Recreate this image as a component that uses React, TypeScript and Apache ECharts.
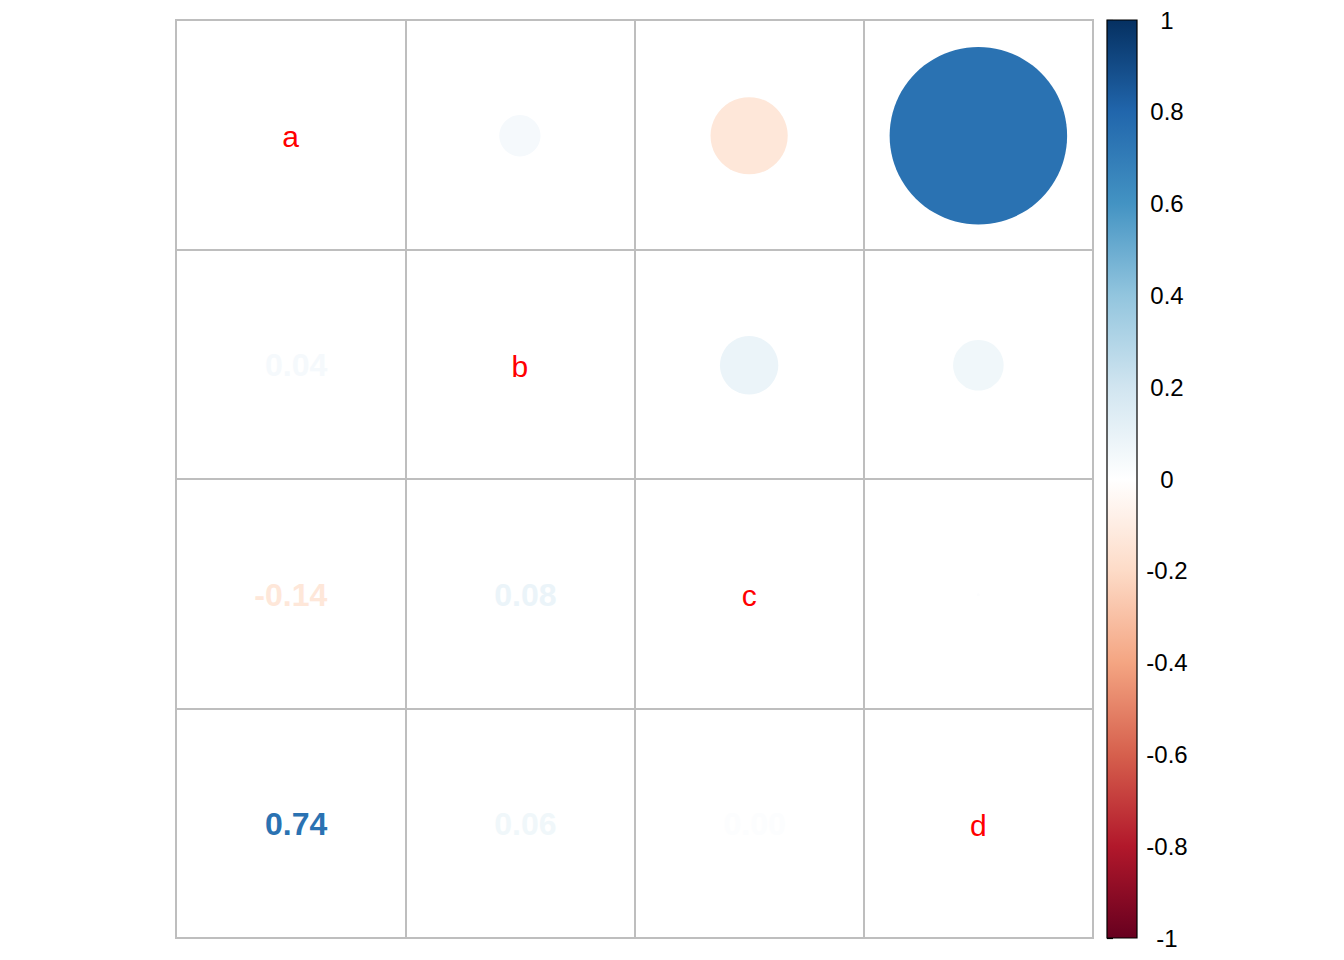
import React, { useEffect, useRef } from 'react';
import * as echarts from 'echarts';

const variables = ['a', 'b', 'c', 'd'];
const corrRows = [
  [1, 0.04, -0.14, 0.74],
  [0.04, 1, 0.08, 0.06],
  [-0.14, 0.08, 1, 0.0002],
  [0.74, 0.06, 0.0002, 1],
];
const palette = [
  '#67001F', '#B2182B', '#D6604D', '#F4A582', '#FDDBC7', '#FFFFFF',
  '#D1E5F0', '#92C5DE', '#4393C3', '#2166AC', '#053061',
];
const colorbarRange = [-1, 1];

function hexToRgb(h: string) {
  return [parseInt(h.slice(1, 3), 16), parseInt(h.slice(3, 5), 16), parseInt(h.slice(5, 7), 16)];
}

function colorFor(v: number) {
  const n = 200;
  let idx = Math.ceil(((v + 1) / 2) * n);
  idx = Math.max(0, Math.min(n - 1, idx));
  const t = (idx / (n - 1)) * (palette.length - 1);
  const k = Math.min(Math.floor(t), palette.length - 2);
  const f = t - k;
  const a = hexToRgb(palette[k]);
  const b = hexToRgb(palette[k + 1]);
  const c = a.map((x, i) => Math.round(x + (b[i] - x) * f));
  return `rgb(${c[0]},${c[1]},${c[2]})`;
}

const FONT = '"Liberation Sans", Arial, Helvetica, sans-serif';

export default function App() {
  const ref = useRef<HTMLDivElement>(null);
  useEffect(() => {
    document.body.style.margin = '0';
    const chart = echarts.init(ref.current!, null, { renderer: 'svg' });

    const upper: any[] = [];
    const lower: any[] = [];
    const diag: any[] = [];
    corrRows.forEach((row, i) => {
      row.forEach((v, j) => {
        if (j > i) upper.push([j, i, v]);
        else if (j < i) lower.push([j, i, v]);
        else diag.push([j, i, variables[i]]);
      });
    });

    const axisCommon = {
      type: 'category' as const,
      data: variables,
      axisLabel: { show: false },
      axisTick: { show: false },
      axisLine: { show: false },
      splitLine: { show: true, interval: 0, lineStyle: { color: '#BEBEBE', width: 2 } },
    };

    chart.setOption({
      animation: false,
      backgroundColor: '#FFFFFF',
      grid: [
        { left: 176, top: 20, width: 917, height: 918, show: true, borderColor: '#BEBEBE', borderWidth: 2, backgroundColor: 'transparent' },
        { left: 1107, top: 20, width: 30, height: 918 },
      ],
      xAxis: [
        { ...axisCommon, gridIndex: 0, position: 'top' },
        { type: 'value', gridIndex: 1, min: 0, max: 1, show: false },
      ],
      yAxis: [
        { ...axisCommon, gridIndex: 0, inverse: true },
        {
          type: 'value', gridIndex: 1, min: -1, max: 1, interval: 0.2, position: 'right',
          axisLine: { show: false },
          axisTick: { show: true, length: 6, lineStyle: { color: '#000', width: 1.2 } },
          axisLabel: {
            color: '#000', fontSize: 24, fontFamily: FONT, align: 'center', margin: 30,
            formatter: (v: number) => String(Number(v.toFixed(1))),
          },
          splitLine: { show: false },
        },
      ],
      series: [
        {
          type: 'custom', xAxisIndex: 0, yAxisIndex: 0, data: upper,
          renderItem: (params: any, api: any) => {
            const v = api.value(2);
            const c = api.coord([api.value(0), api.value(1)]);
            const s = api.size([1, 1]);
            const r = (0.9 * Math.sqrt(Math.abs(v)) * Math.min(s[0], s[1])) / 2;
            return { type: 'circle', shape: { cx: c[0], cy: c[1] + 1, r }, style: { fill: colorFor(v) } };
          },
        },
        {
          type: 'custom', xAxisIndex: 0, yAxisIndex: 0, data: lower,
          renderItem: (params: any, api: any) => {
            const v = api.value(2);
            const c = api.coord([api.value(0), api.value(1)]);
            const s = api.size([1, 1]);
            return {
              type: 'text', x: c[0] + s[0] * 0.16, y: c[1] + 1,
              style: {
                text: v.toFixed(2), fill: colorFor(v), fontSize: 32, fontWeight: 'bold',
                fontFamily: FONT, align: 'right', verticalAlign: 'middle',
              },
            };
          },
        },
        {
          type: 'custom', xAxisIndex: 0, yAxisIndex: 0, data: diag,
          dimensions: ['x', 'y', { name: 'label', type: 'ordinal' }],
          renderItem: (params: any, api: any) => {
            const idx = params.dataIndex;
            const item = diag[idx];
            const c = api.coord([item[0], item[1]]);
            return {
              type: 'text', x: c[0], y: c[1] + 2,
              style: {
                text: item[2], fill: '#FF0000', fontSize: 30, fontFamily: FONT,
                align: 'center', verticalAlign: 'middle',
              },
            };
          },
        },
        {
          type: 'custom', xAxisIndex: 1, yAxisIndex: 1, data: [[0, colorbarRange[0], colorbarRange[1]]],
          renderItem: (params: any, api: any) => {
            const top = api.coord([0, api.value(2)]);
            const bot = api.coord([1, api.value(1)]);
            const stops = palette.map((col, i) => ({ offset: 1 - i / (palette.length - 1), color: col }));
            stops.reverse();
            return {
              type: 'rect',
              shape: { x: top[0], y: top[1], width: bot[0] - top[0], height: bot[1] - top[1] },
              style: {
                fill: new echarts.graphic.LinearGradient(0, 0, 0, 1, stops),
                stroke: '#000', lineWidth: 1.2,
              },
            };
          },
        },
      ],
    });
    return () => chart.dispose();
  }, []);
  return <div ref={ref} style={{ width: 1344, height: 960 }} />;
}
